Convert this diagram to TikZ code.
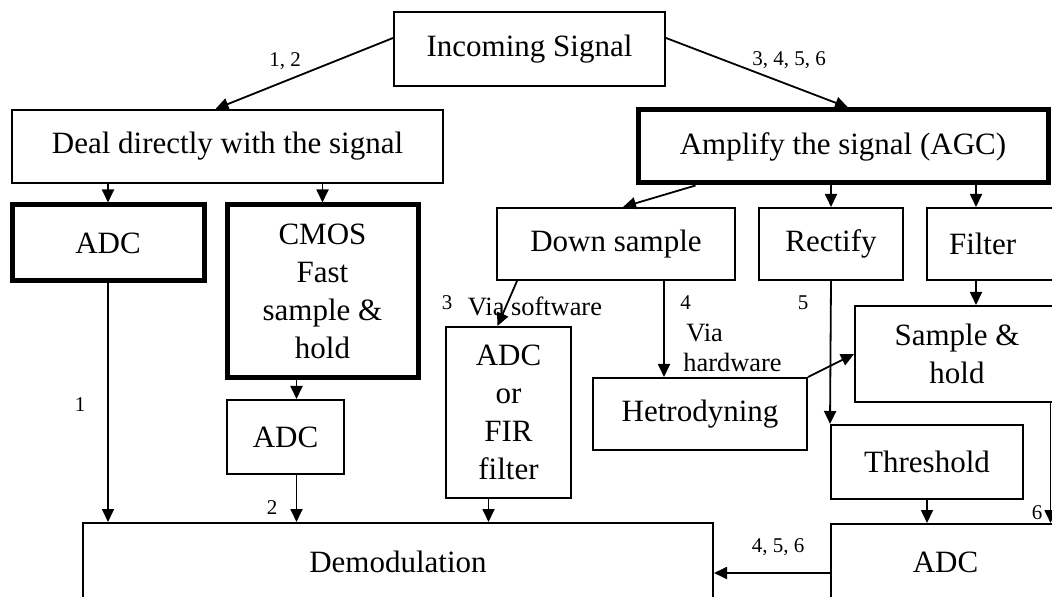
\documentclass[tikz,border=0pt]{standalone}
\usepackage{fontspec}
\setmainfont{Liberation Serif}
\usepackage{tikz}
\usetikzlibrary{positioning}
\usetikzlibrary{calc}
\usetikzlibrary{arrows.meta}
\newcommand{\boxfont}{\fontsize{15.5}{19}\selectfont}
\newcommand{\numfont}{\fontsize{10.5}{12}\selectfont}
\newcommand{\viafont}{\fontsize{13.2}{15}\selectfont}

\begin{document}
\begin{tikzpicture}[x=0.5pt, y=-0.5pt,
    every node/.style={font=\boxfont},
    blk/.style={draw, line width=1pt, inner sep=0pt, align=center},
    thickblk/.style={blk, line width=2.5pt},
    num/.style={font=\numfont, inner sep=0pt},
    via/.style={font=\viafont, inner sep=0pt},
    arr/.style={-{Triangle[length=6.5pt,width=6pt]}, line width=0.9pt}]
    \path[use as bounding box, clip] (0,0) rectangle (1052,597);

    \node[blk, minimum width=135.5pt, minimum height=37pt] (sig) at (529.5,49) {Incoming Signal};
    \node[blk, minimum width=215.5pt, minimum height=36.5pt] (direct) at (227.5,146.5) {Deal directly with the signal};
    \node[thickblk, minimum width=205pt, minimum height=36.5pt] (amp) at (843,146.5) {Amplify the signal (AGC)};
    \node[thickblk, minimum width=96pt, minimum height=38pt] (adcA) at (108,243) {ADC};
    \node[thickblk, minimum width=95.5pt, minimum height=86.5pt] (cmos) at (322.5,291.5) {CMOS\\Fast\\sample \&\\hold};
    \node[blk, minimum width=119pt, minimum height=36pt] (down) at (616,244) {Down sample};
    \node[blk, minimum width=72pt, minimum height=36pt] (rect) at (831,244) {Rectify};
    \node[blk, minimum height=36pt, text width=45pt, inner xsep=11pt, align=left, anchor=west] (filt) at (926,244) {Filter};
    \node[blk, minimum width=102pt, minimum height=48pt] (sh) at (957,354) {Sample \&\\hold};
    \node[blk, minimum width=58.5pt, minimum height=37pt] (adcB) at (285.5,437) {ADC};
    \node[blk, minimum width=62.5pt, minimum height=85.5pt] (fir) at (508.5,412.5) {ADC\\or\\FIR\\filter};
    \node[blk, minimum width=107pt, minimum height=36pt] (het) at (700,414) {Hetrodyning};
    \node[blk, minimum width=96pt, minimum height=37pt] (thr) at (927,462) {Threshold};
    \node[blk, minimum width=114.5pt, minimum height=38pt] (adcC) at (945.5,562) {ADC};
    \node[blk, minimum width=315pt, minimum height=38.5pt] (demod) at (398,561.5) {Demodulation};

    \draw[arr] ([yshift=5.5pt]sig.west) -- ([xshift=-6pt]direct.north);
    \draw[arr] ([yshift=5.5pt]sig.east) -- ([xshift=2.5pt]amp.north);
    \draw[arr] (direct.south -| adcA.north) -- (adcA.north);
    \draw[arr] (direct.south -| cmos.north) -- (cmos.north);
    \draw[arr] ([xshift=30pt]amp.south west) -- ([xshift=3.5pt]down.north);
    \draw[arr] (amp.south -| rect.north) -- (rect.north);
    \coordinate (fx) at ([xshift=-9pt]filt.north);
    \draw[arr] (amp.south -| fx) -- (fx);
    \draw[arr] (filt.south -| fx) -- (sh.north -| fx);
    \coordinate (bx) at ([xshift=5.5pt]adcB.north);
    \draw[arr] (cmos.south -| bx) -- (bx);
    \draw[arr] (adcB.south -| bx) -- (demod.north -| bx);
    \draw[arr] (adcA.south) -- (demod.north -| adcA.south);
    \draw[arr] ([xshift=10.5pt]down.south west) -- ([xshift=-5.5pt]fir.north);
    \coordinate (firx) at ([xshift=-10pt]fir.south);
    \draw[arr] (firx) -- (demod.north -| firx);
    \coordinate (hx) at ([xshift=24pt]down.south);
    \draw[arr] (hx) -- (het.north -| hx);
    \draw[arr] (het.north east) -- (sh.west);
    \draw[arr] (rect.south) -- (thr.north west);
    \draw[arr] (thr.south) -- (adcC.north -| thr.south);
    \coordinate (ax) at ([yshift=-5.5pt]adcC.west);
    \draw[arr] (ax) -- (demod.east |- ax);
    \coordinate (sx) at (1050.5,0);
    \draw[arr] (sh.south -| sx) -- (adcC.north -| sx);

    \node[num] (l12) at (285,61) {1, 2};
    \node[num] (l3456) at (789,60) {3, 4, 5, 6};
    \node[num] (l1) at (80,405) {1};
    \node[num] (l2) at (272,508) {2};
    \node[num] (l3) at (447,303) {3};
    \node[via] (lsw) at (535,306) {Via software};
    \node[num, anchor=west] (l4) at (680,303) {4};
    \node[via, anchor=west] (lvia) at (686,333) {Via};
    \node[via, anchor=west] (lhw) at (683,362) {hardware};
    \node[num] (l5) at (803,303) {5};
    \node[num] (l456) at (778,547) {4, 5, 6};
    \node[num] (l6) at (1037,513) {6};
\end{tikzpicture}
\end{document}
